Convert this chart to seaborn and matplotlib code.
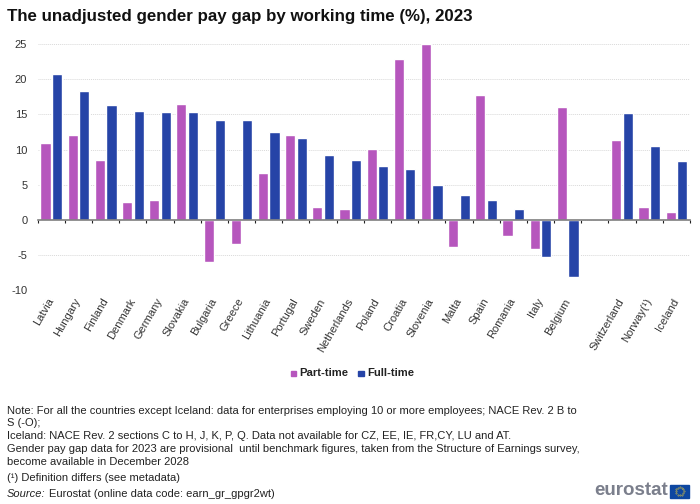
import numpy as np
import pandas as pd
import matplotlib
matplotlib.use("Agg")
import matplotlib.pyplot as plt
from matplotlib.patches import Rectangle
import seaborn as sns

countries = ["Latvia", "Hungary", "Finland", "Denmark", "Germany", "Slovakia", "Bulgaria", "Greece",
             "Lithuania", "Portugal", "Sweden", "Netherlands", "Poland", "Croatia", "Slovenia", "Malta",
             "Spain", "Romania", "Italy", "Belgium", " ", "Switzerland", "Norway(¹)", "Iceland"]
part_time = [11.0, 12.0, 8.5, 2.6, 2.8, 16.5, -6.0, -3.4, 6.6, 12.0, 1.8, 1.5,
             10.1, 22.9, 25.0, -3.9, 17.8, -2.3, -4.1, 16.1, np.nan, 11.3, 1.8, 1.1]
full_time = [20.7, 18.3, 16.4, 15.5, 15.4, 15.3, 14.2, 14.2, 12.5, 11.6, 9.2, 8.5,
             7.7, 7.2, 4.9, 3.5, 2.9, 1.6, -5.2, -8.1, np.nan, 15.2, 10.5, 8.4]
y_ticks = [-10, -5, 0, 5, 10, 15, 20, 25]

title = "The unadjusted gender pay gap by working time (%), 2023"
notes = [
    ("Note: For all the countries except Iceland: data for enterprises employing 10 or more employees; NACE Rev. 2 B to", 410.5),
    ("S (-O);", 423),
    ("Iceland: NACE Rev. 2 sections C to H, J, K, P, Q. Data not available for CZ, EE, IE, FR,CY, LU and AT.", 436),
    ("Gender pay gap data for 2023 are provisional  until benchmark figures, taken from the Structure of Earnings survey,", 449),
    ("become available in December 2028", 462),
    ("(¹) Definition differs (see metadata)", 478),
]

W, H = 700, 504
sns.set_theme(style="white")
plt.rcParams["font.family"] = ["Liberation Sans", "DejaVu Sans"]
plt.rcParams["axes.unicode_minus"] = False

df = pd.DataFrame({"country": countries, "Part-time": part_time, "Full-time": full_time})
df = df.melt(id_vars="country", var_name="type", value_name="gap")

fig = plt.figure(figsize=(7, 5.04), dpi=100)
ax = fig.add_axes([37.7 / W, 1 - 290.3 / H, (690 - 37.7) / W, (290.3 - 44) / H])

sns.barplot(data=df, x="country", y="gap", hue="type", order=countries, errorbar=None,
            palette={"Part-time": "#B656BD", "Full-time": "#2644A7"}, saturation=1,
            width=0.85, gap=0.12, ax=ax, legend=False, zorder=3)

ax.set_xlim(-0.5, len(countries) - 0.5)
ax.set_ylim(-10, 25)
ax.set_xlabel("")
ax.set_ylabel("")
ax.set_yticks(y_ticks)
ax.tick_params(axis="y", length=0, labelsize=8, labelcolor="#333333", pad=7.5)
ax.yaxis.grid(True, color="#d9d9d9", linewidth=0.7, linestyle=(0, (1, 1)))
ax.set_axisbelow(True)

for s in ["top", "right", "left"]:
    ax.spines[s].set_visible(False)
ax.spines["bottom"].set_position(("data", 0))
ax.spines["bottom"].set_color("#7f7f7f")
ax.spines["bottom"].set_linewidth(1.2)
ax.spines["bottom"].set_zorder(4)

# labels sit under the -10 line, the small ticks mark the slot borders at zero
ax.set_xticks(range(len(countries)))
ax.set_xticklabels(countries, rotation=60, ha="right", va="center", rotation_mode="anchor",
                   fontsize=8, color="#333333")
ax.tick_params(axis="x", which="major", length=0, pad=57)
ax.set_xticks(np.arange(-0.5, len(countries)), minor=True)
ax.tick_params(axis="x", which="minor", length=2.2, width=0.8, color="#222222", bottom=True)

fig.text(7 / W, 1 - 16 / H, title, fontsize=12.13, fontweight="bold", color="#111111", va="center")

# legend
for x0, label, col in [(290.5, "Part-time", "#B656BD"), (358.3, "Full-time", "#2644A7")]:
    fig.add_artist(Rectangle((x0 / W, 1 - 376 / H), 5.5 / W, 5.5 / H, color=col, transform=fig.transFigure))
    fig.text((x0 + 9) / W, 1 - 373.5 / H, label, fontsize=8.1, fontweight="bold", color="#222222", va="center")

for line, y in notes:
    fig.text(7 / W, 1 - y / H, line, fontsize=8.05, color="#222222", va="center")
fig.text(7 / W, 1 - 494 / H, "Source:", fontsize=8.05, style="italic", color="#222222", va="center")
fig.text(49 / W, 1 - 494 / H, "Eurostat (online data code: earn_gr_gpgr2wt)", fontsize=8.05, color="#222222", va="center")

# eurostat logo
fig.text(594 / W, 1 - 490.5 / H, "eurostat", fontsize=13.5, fontweight="bold", color="#7b7f8c", va="center")
fig.add_artist(Rectangle((670.3 / W, 1 - 497.7 / H), 18.5 / W, 12.7 / H, color="#0E47A1", transform=fig.transFigure))
angles = np.linspace(0, 2 * np.pi, 12, endpoint=False)
fig.add_artist(plt.Line2D((679.6 + 4 * np.cos(angles)) / W, (1 - 491.3 / H) + 4 * np.sin(angles) / H,
                          linestyle="", marker=".", markersize=0.7, color="#C9B84A", transform=fig.transFigure))

fig.savefig("out.png", dpi=100)
